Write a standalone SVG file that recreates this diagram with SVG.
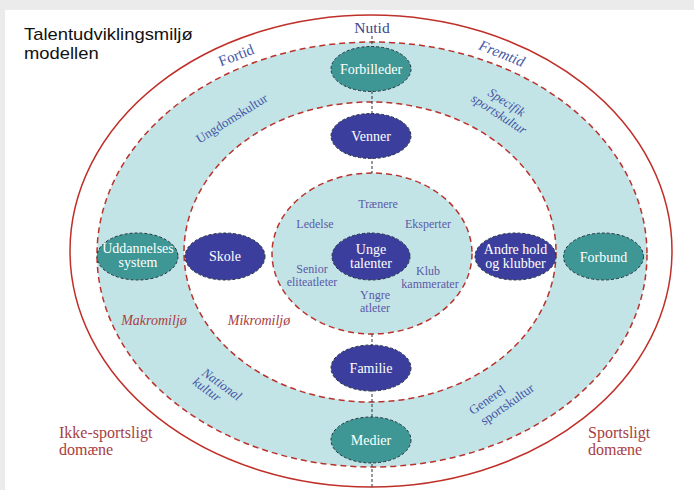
<svg xmlns="http://www.w3.org/2000/svg" width="694" height="490" viewBox="0 0 694 490">
<style>
.ring{stroke:#b9332c;stroke-width:1.5;stroke-dasharray:6 4}
.nd{stroke:#24323f;stroke-width:1;stroke-dasharray:3 2}
.teal{fill:#3e9794}
.blue{fill:#3c3e9e}
.cn{stroke:#2a3440;stroke-width:1;stroke-dasharray:3 2}
.nl{font-family:"Liberation Serif","Times New Roman",serif;font-size:14px;fill:#ffffff;text-anchor:middle}
.bl{font-family:"Liberation Serif","Times New Roman",serif;font-size:13px;fill:#4356a6;text-anchor:middle}
.it{font-style:italic}
.il{font-family:"Liberation Serif","Times New Roman",serif;font-size:12px;fill:#5b5aa6;text-anchor:middle}
.rl{font-family:"Liberation Serif","Times New Roman",serif;font-size:16px;fill:#a8403f}
.ri{font-family:"Liberation Serif","Times New Roman",serif;font-size:14px;font-style:italic;fill:#a8403f;text-anchor:middle}
</style>
<rect x="0" y="0" width="694" height="490" fill="#ebebeb"/>
<rect x="5" y="10" width="689" height="480" fill="#ffffff"/>
<g id="title" transform="translate(24,0) scale(1.15,1)">
<text x="0" y="40" font-family="Liberation Sans, Arial, sans-serif" font-size="16" fill="#111">Talentudviklingsmiljø</text>
<text x="0" y="59" font-family="Liberation Sans, Arial, sans-serif" font-size="16" fill="#111">modellen</text>
</g>
<g id="domains">
<ellipse cx="371" cy="251" rx="301" ry="236" fill="#ffffff" stroke="#c0302a" stroke-width="1.5"/>
<ellipse class="ring" cx="372" cy="254.5" rx="275" ry="212.5" fill="#c3e4e7"/>
<ellipse class="ring" cx="370" cy="252" rx="186" ry="150" fill="#ffffff"/>
<ellipse class="ring" cx="372" cy="253.5" rx="100" ry="80.5" fill="#c3e4e7"/>
</g>
<g id="connectors">
<line class="cn" x1="372" y1="36" x2="372" y2="173"/>
<line class="cn" x1="372" y1="334" x2="372" y2="487"/>
</g>
<g id="labels">
<text x="372" y="33" font-family="Liberation Serif, Times New Roman, serif" font-size="15.5" fill="#3b4590" text-anchor="middle">Nutid</text>
<text class="bl" style="font-size:15px" transform="translate(238,60) rotate(-21)">Fortid</text>
<text class="bl it" style="font-size:15px" transform="translate(500,58) rotate(22)">Fremtid</text>
<text class="bl" transform="translate(234,122) rotate(-32)">Ungdomskultur</text>
<g transform="translate(501,111) rotate(33)">
<text class="bl it" x="0" y="-6">Specifik</text>
<text class="bl it" x="0" y="8">sportskultur</text>
</g>
<g transform="translate(217,391) rotate(36)">
<text class="bl it" x="0" y="-4">National</text>
<text class="bl it" x="-9" y="9">kultur</text>
</g>
<g transform="translate(499,403) rotate(-35)">
<text class="bl" x="-8" y="-5">Generel</text>
<text class="bl" x="6" y="10">sportskultur</text>
</g>
<text class="ri" x="154" y="325">Makromiljø</text>
<text class="ri" x="259" y="325">Mikromiljø</text>
<text class="rl" x="59" y="438">Ikke-sportsligt</text>
<text class="rl" x="59" y="455">domæne</text>
<text class="rl" x="588" y="438">Sportsligt</text>
<text class="rl" x="588" y="455">domæne</text>
<text class="il" x="378" y="208">Trænere</text>
<text class="il" x="315" y="228">Ledelse</text>
<text class="il" x="428" y="228">Eksperter</text>
<text class="il" x="312" y="273">Senior</text>
<text class="il" x="312" y="286">eliteatleter</text>
<text class="il" x="428" y="275">Klub</text>
<text class="il" x="430" y="288">kammerater</text>
<text class="il" x="375" y="299">Yngre</text>
<text class="il" x="375" y="312">atleter</text>
</g>
<g id="forbilleder"><ellipse class="nd teal" cx="371" cy="69" rx="40" ry="22.5"/><text class="nl" x="371" y="74">Forbilleder</text></g>
<g id="venner"><ellipse class="nd blue" cx="371" cy="136" rx="40" ry="22.5"/><text class="nl" x="371" y="141">Venner</text></g>
<g id="unge-talenter"><ellipse class="nd blue" cx="371" cy="256.5" rx="39" ry="23.5"/><text class="nl" x="371" y="254">Unge</text><text class="nl" x="371" y="268">talenter</text></g>
<g id="familie"><ellipse class="nd blue" cx="371" cy="368" rx="40" ry="23"/><text class="nl" x="371" y="373">Familie</text></g>
<g id="medier"><ellipse class="nd teal" cx="371" cy="440" rx="40" ry="23"/><text class="nl" x="371" y="445">Medier</text></g>
<g id="skole"><ellipse class="nd blue" cx="225" cy="256.5" rx="40" ry="23.5"/><text class="nl" x="225" y="261">Skole</text></g>
<g id="uddannelsessystem"><ellipse class="nd teal" cx="137.5" cy="256.5" rx="40.5" ry="23.5"/><text class="nl" x="138" y="253">Uddannelses</text><text class="nl" x="138" y="267">system</text></g>
<g id="andre-hold"><ellipse class="nd blue" cx="515.5" cy="256.5" rx="40.5" ry="23.5"/><text class="nl" x="515.5" y="254">Andre hold</text><text class="nl" x="515.5" y="268">og klubber</text></g>
<g id="forbund"><ellipse class="nd teal" cx="603.5" cy="256.5" rx="40" ry="23.5"/><text class="nl" x="603.5" y="262">Forbund</text></g>
</svg>
